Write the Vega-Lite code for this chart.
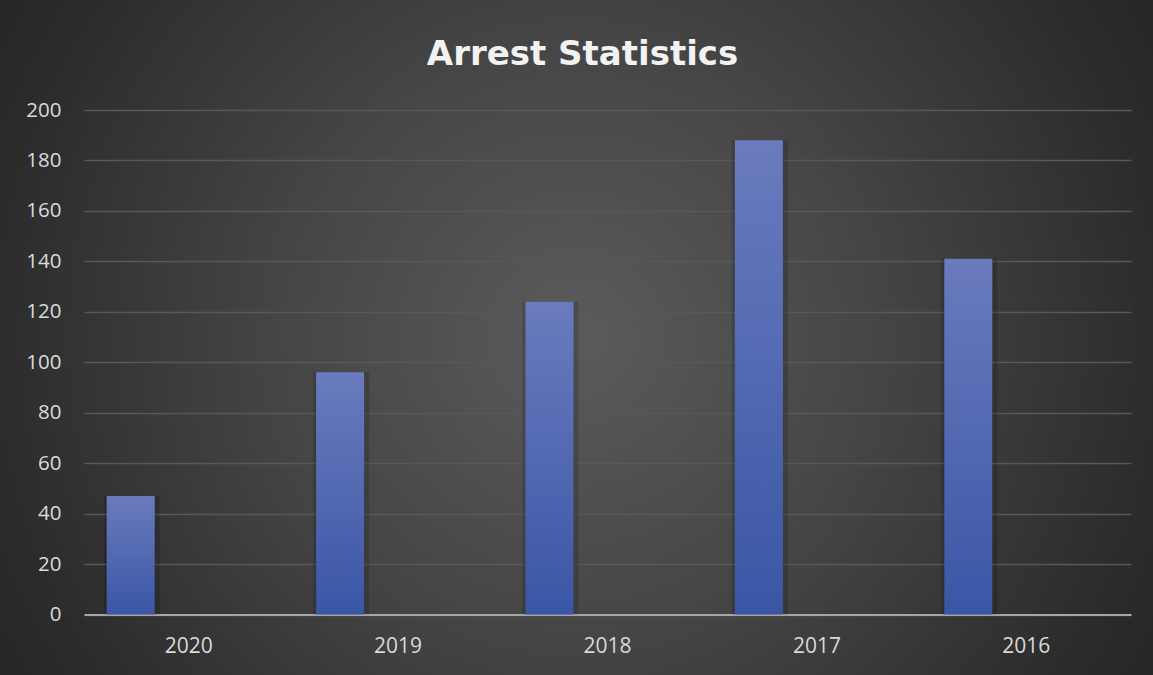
{
  "$schema": "https://vega.github.io/schema/vega-lite/v6.json",
  "width": 1153,
  "height": 675,
  "autosize": {"type": "none"},
  "padding": 0,
  "background": "#262626",
  "view": {
    "stroke": null,
    "fill": {
      "gradient": "radial",
      "x1": 0.5, "y1": 0.5, "r1": 0,
      "x2": 0.5, "y2": 0.5, "r2": 0.58,
      "stops": [
        {"offset": 0, "color": "#5b5b5b"},
        {"offset": 0.45, "color": "#454545"},
        {"offset": 0.87, "color": "#2c2c2c"},
        {"offset": 1, "color": "#262626"}
      ]
    }
  },
  "title": {
    "text": "Arrest Statistics",
    "font": "DejaVu Sans",
    "fontSize": 34,
    "fontWeight": "bold",
    "color": "#f2f2f2",
    "anchor": "middle",
    "frame": "group",
    "baseline": "alphabetic",
    "offset": -65,
    "dy": 34,
    "dx": 6
  },
  "data": {
    "values": [
      {"year": "2020", "arrests": 47},
      {"year": "2019", "arrests": 96},
      {"year": "2018", "arrests": 124},
      {"year": "2017", "arrests": 188},
      {"year": "2016", "arrests": 141}
    ]
  },
  "encoding": {
    "x": {
      "field": "year",
      "type": "nominal",
      "sort": null,
      "scale": {"type": "band", "range": [84, 1131], "paddingInner": 0, "paddingOuter": 0},
      "axis": {
        "title": null,
        "orient": "bottom",
        "offset": -60.5,
        "labelAngle": 0,
        "labelPadding": 21,
        "labelFont": "Open Sans",
        "labelFontSize": 21,
        "labelColor": "#d9d9d9",
        "ticks": false,
        "grid": false,
        "domain": true,
        "domainColor": "#a6a6a6",
        "domainWidth": 2.2
      }
    },
    "y": {
      "field": "arrests",
      "type": "quantitative",
      "scale": {"domain": [0, 200], "range": [614.5, 110], "nice": false, "zero": true},
      "axis": {
        "title": null,
        "orient": "left",
        "offset": -84,
        "values": [0, 20, 40, 60, 80, 100, 120, 140, 160, 180, 200],
        "labelPadding": 23,
        "labelFont": "Open Sans",
        "labelFontSize": 20.5,
        "labelColor": "#d9d9d9",
        "ticks": false,
        "domain": false,
        "grid": true,
        "gridColor": "#585858",
        "gridWidth": 1.3
      }
    }
  },
  "layer": [
    {
      "mark": {"type": "bar", "width": 56, "xOffset": -57, "fill": "#000000", "opacity": 0.15}
    },
    {
      "mark": {
        "type": "bar",
        "width": 48,
        "xOffset": -58,
        "fill": {
          "gradient": "linear",
          "x1": 0, "y1": 0, "x2": 0, "y2": 1,
          "stops": [
            {"offset": 0, "color": "#6a7bbe"},
            {"offset": 1, "color": "#3a56a5"}
          ]
        }
      }
    }
  ]
}
